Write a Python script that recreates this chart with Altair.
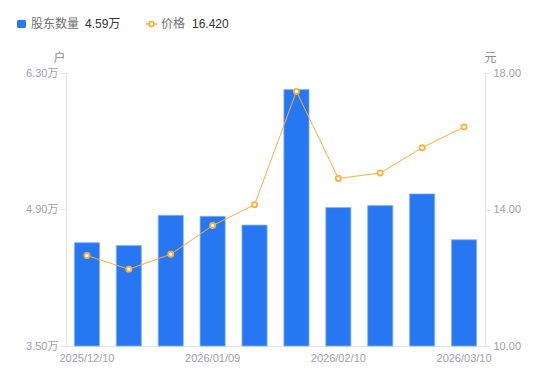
import altair as alt
import pandas as pd

dates = ["2025/12/10", "2025/12/19", "2025/12/31", "2026/01/09", "2026/01/20",
         "2026/01/30", "2026/02/10", "2026/02/13", "2026/02/27", "2026/03/10"]
holders = [4.56, 4.53, 4.84, 4.83, 4.74, 6.13, 4.92, 4.94, 5.06, 4.59]
price = [12.65, 12.25, 12.69, 13.53, 14.14, 17.46, 14.91, 15.07, 15.81, 16.42]
shown_dates = ["2025/12/10", "2026/01/09", "2026/02/10", "2026/03/10"]
left_ticks = [3.5, 4.9, 6.3]
right_ticks = [10, 14, 18]

FONT = "Liberation Sans, Noto Sans CJK SC, sans-serif"
BLUE = "#2777f3"
ORANGE = "#f8b03a"
LABEL = "#a0a0b2"
AXIS = "#e3e3e8"

df = pd.DataFrame({"date": dates, "holders": holders, "price": price})

lab_expr = "indexof([" + ",".join("'%s'" % d for d in shown_dates) + "], datum.value) >= 0 ? datum.value : ''"

x_enc = alt.X("date:N", sort=None, title=None,
              scale=alt.Scale(paddingInner=0.4, paddingOuter=0.2),
              axis=alt.Axis(labelAngle=0, labelExpr=lab_expr, ticks=False,
                            domainColor=AXIS, labelColor=LABEL, labelFontSize=11,
                            labelPadding=6, labelFont=FONT))

bars = alt.Chart(df).mark_bar(color=BLUE, stroke="#86b3f8", strokeWidth=0.8).encode(
    x=x_enc,
    y=alt.Y("holders:Q",
            scale=alt.Scale(domain=[3.5, 6.3], zero=False, nice=False),
            axis=alt.Axis(orient="left", values=left_ticks, grid=False,
                          labelExpr="format(datum.value, '.2f') + '万'",
                          title="户", titleAngle=0, titleX=-7, titleY=-16,
                          titleAlign="center", titleBaseline="middle",
                          titleColor="#888894", titleFontWeight="normal", titleFontSize=12,
                          titleFont=FONT,
                          domainColor=AXIS, tickColor=AXIS, tickSize=5,
                          labelColor=LABEL, labelFontSize=11, labelPadding=3,
                          labelFont=FONT)),
    y2=alt.datum(3.5),
)

line = alt.Chart(df).mark_line(
    color=ORANGE, strokeWidth=1,
    point=alt.OverlayMarkDef(filled=True, fill="white", stroke=ORANGE, strokeWidth=1.8, size=26),
).encode(
    x=alt.X("date:N", sort=None),
    y=alt.Y("price:Q",
            scale=alt.Scale(domain=[10, 18], zero=False, nice=False),
            axis=alt.Axis(orient="right", values=right_ticks, grid=False, format=".2f",
                          title="元", titleAngle=0, titleX=5, titleY=-16,
                          titleAlign="center", titleBaseline="middle",
                          titleColor="#888894", titleFontWeight="normal", titleFontSize=12,
                          titleFont=FONT,
                          domainColor=AXIS, tickColor=AXIS, tickSize=5,
                          labelColor=LABEL, labelFontSize=11, labelPadding=3,
                          labelFont=FONT)),
)

one = pd.DataFrame({"k": [0]})

leg_sq = alt.Chart(one).mark_rect(color=BLUE, cornerRadius=1.5).encode(
    x=alt.value(-49), x2=alt.value(-40), y=alt.value(-53), y2=alt.value(-45))
leg_ln = alt.Chart(one).mark_rule(color=ORANGE, strokeWidth=1.5).encode(
    x=alt.value(80), x2=alt.value(91), y=alt.value(-49))
leg_pt = alt.Chart(one).mark_point(filled=True, fill="white", stroke=ORANGE,
                                   strokeWidth=1.8, size=24, opacity=1).encode(
    x=alt.value(85.5), y=alt.value(-49))


def txt(s, xpos, color):
    return alt.Chart(pd.DataFrame({"t": [s]})).mark_text(
        align="left", baseline="middle", fontSize=12, font=FONT, color=color
    ).encode(text="t:N", x=alt.value(xpos), y=alt.value(-49))


legend = [leg_sq, leg_ln, leg_pt,
          txt("股东数量", -35, "#707070"), txt("4.59万", 19, "#333333"),
          txt("价格", 95, "#707070"), txt("16.420", 126, "#333333")]

chart = alt.layer(bars, line, *legend).resolve_scale(y="independent").properties(
    width=419, height=273,
    autosize=alt.AutoSizeParams(type="none"),
    padding={"left": 58, "top": 65, "right": 57, "bottom": 27},
).configure_view(stroke=None)

chart.save("out.html", embed_options={"renderer": "svg", "actions": False})
